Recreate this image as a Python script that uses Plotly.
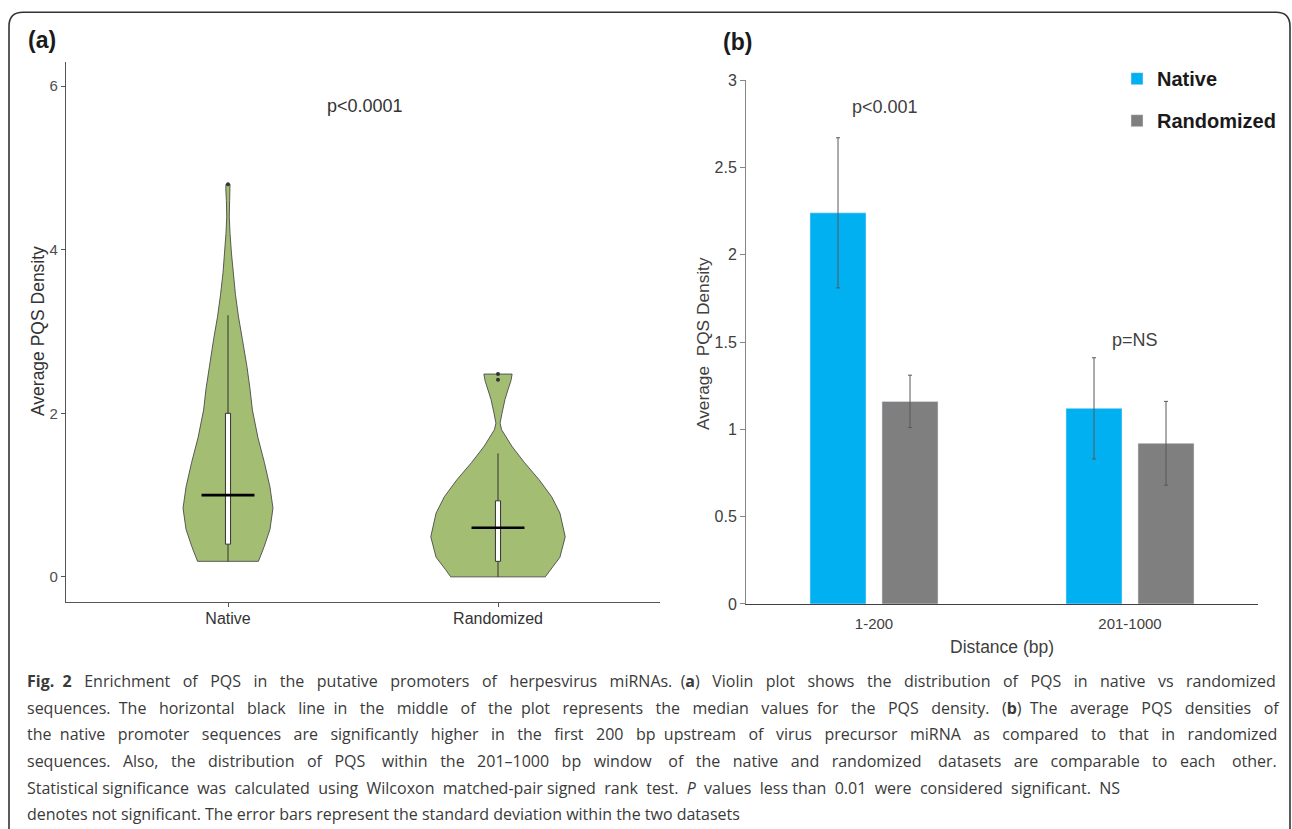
import plotly.graph_objects as go

W, H = 1292, 829

# ---------------- data: panel (a) violin ----------------
groups_a = ["Native", "Randomized"]
# density profile (value level, relative half-width)
native_levels = [0.19, 0.37, 0.58, 0.84, 1.1, 1.4, 1.7, 2.04, 2.3, 2.57, 2.9, 3.18, 3.45, 3.72, 3.96, 4.2, 4.4, 4.6, 4.75, 4.80]
native_dens = [0.453, 0.538, 0.624, 0.669, 0.624, 0.541, 0.446, 0.363, 0.327, 0.282, 0.215, 0.156, 0.111, 0.074, 0.051, 0.030, 0.019, 0.024, 0.033, 0.030]
random_levels = [0.0, 0.09, 0.24, 0.49, 0.78, 0.98, 1.19, 1.40, 1.6, 1.80, 1.88, 2.0, 2.17, 2.29, 2.40, 2.48]
random_dens = [0.703, 0.782, 0.921, 1.0, 0.921, 0.798, 0.609, 0.391, 0.204, 0.053, 0.031, 0.059, 0.104, 0.149, 0.193, 0.210]

q1_a = [0.40, 0.19]
median_a = [1.00, 0.60]
q3_a = [2.00, 0.93]
lowfence_a = [0.19, 0.00]
highfence_a = [3.20, 1.51]
outlier_group = ["Native", "Randomized", "Randomized"]
outlier_vals = [4.80, 2.48, 2.41]

# ---------------- data: panel (b) bars ----------------
distance_cats = ["1-200", "201-1000"]
native_mean = [2.24, 1.12]
native_sd = [0.43, 0.29]
random_mean = [1.16, 0.92]
random_sd = [0.15, 0.24]

# ---------------- helpers ----------------
# screen-pixel -> paper fraction (vertical includes compensation for the capture offset/scale)
Y_OFF, Y_SCALE = 7.8, 0.98

def px(x):
    return x / W

def py(y):
    return 1 - ((y - Y_OFF) / Y_SCALE) / H

VIOLIN_SCALE = 0.249   # x-units for relative density 1
BOX_HALF = 0.0095
MEDIAN_HALF = 0.098
GREEN = "#a3be73"
DARK = "#333333"

fig = go.Figure()

pos = {g: i + 1 for i, g in enumerate(groups_a)}

for g, lv, dn in [("Native", native_levels, native_dens), ("Randomized", random_levels, random_dens)]:
    c = pos[g]
    xs = [c + d * VIOLIN_SCALE for d in dn] + [c - d * VIOLIN_SCALE for d in reversed(dn)]
    ys = list(lv) + list(reversed(lv))
    xs.append(xs[0]); ys.append(ys[0])
    fig.add_trace(go.Scatter(x=xs, y=ys, mode="lines", fill="toself", fillcolor=GREEN,
                             line=dict(color="#4a4a4a", width=0.9), hoverinfo="skip",
                             showlegend=False, xaxis="x", yaxis="y"))

# whiskers
wx, wy = [], []
for g, lo, a, b, hi in zip(groups_a, lowfence_a, q1_a, q3_a, highfence_a):
    c = pos[g]
    wx += [c, c, None, c, c, None]
    wy += [lo, a, None, b, hi, None]
fig.add_trace(go.Scatter(x=wx, y=wy, mode="lines", line=dict(color=DARK, width=1),
                         showlegend=False, hoverinfo="skip", xaxis="x", yaxis="y"))

# boxes (IQR)
for g, a, b in zip(groups_a, q1_a, q3_a):
    c = pos[g]
    fig.add_trace(go.Scatter(x=[c - BOX_HALF, c + BOX_HALF, c + BOX_HALF, c - BOX_HALF, c - BOX_HALF],
                             y=[a, a, b, b, a], mode="lines", fill="toself", fillcolor="white",
                             line=dict(color=DARK, width=1), showlegend=False, hoverinfo="skip",
                             xaxis="x", yaxis="y"))

# medians
mx, my = [], []
for g, m in zip(groups_a, median_a):
    c = pos[g]
    mx += [c - MEDIAN_HALF, c + MEDIAN_HALF, None]
    my += [m, m, None]
fig.add_trace(go.Scatter(x=mx, y=my, mode="lines", line=dict(color="black", width=2.6),
                         showlegend=False, hoverinfo="skip", xaxis="x", yaxis="y"))

fig.add_trace(go.Scatter(x=[pos[g] for g in outlier_group], y=outlier_vals, mode="markers",
                         marker=dict(color=DARK, size=4), showlegend=False,
                         xaxis="x", yaxis="y"))

# panel (b)
fig.add_trace(go.Bar(name="Native", x=distance_cats, y=native_mean, marker_color="#00b0f0",
                     error_y=dict(type="data", array=native_sd, color="#595959", thickness=1, width=2),
                     legendgroup="n", xaxis="x2", yaxis="y2"))
fig.add_trace(go.Bar(name="Randomized", x=distance_cats, y=random_mean, marker_color="#7f7f7f",
                     error_y=dict(type="data", array=random_sd, color="#595959", thickness=1, width=2),
                     legendgroup="r", xaxis="x2", yaxis="y2"))

font_c = "Liberation Sans, Arial, sans-serif"

fig.update_layout(
    width=W, height=H, autosize=False,
    margin=dict(l=0, r=0, t=0, b=0),
    paper_bgcolor="white", plot_bgcolor="white",
    font=dict(family=font_c, color="#4d4d4d"),
    barmode="group", bargap=0.4375, bargroupgap=0.222,
    xaxis=dict(domain=[px(66), px(660)], range=[0.4, 2.6], tickvals=[1, 2], ticktext=groups_a,
               showline=True, linecolor="#555555", linewidth=1.3, ticks="outside", ticklen=4,
               tickcolor="#555555", showgrid=False, zeroline=False, ticklabelstandoff=-2,
               tickfont=dict(size=16, color=DARK), anchor="y"),
    yaxis=dict(domain=[py(602), py(62)], range=[-0.306, 6.294], tickvals=[0, 2, 4, 6],
               showline=True, linecolor="#555555", linewidth=1.3, ticks="outside", ticklen=4,
               tickcolor="#555555", showgrid=False, zeroline=False,
               tickfont=dict(size=15, color="#4d4d4d"), anchor="x"),
    xaxis2=dict(domain=[px(746), px(1258)], showline=True, linecolor="#404040", linewidth=1,
                ticks="", showgrid=False, zeroline=False, tickfont=dict(size=15, color="#404040"),
                ticklabelstandoff=6, anchor="y2"),
    yaxis2=dict(domain=[py(604), py(80)], range=[0, 3], dtick=0.5, showline=True,
                linecolor="#868686", linewidth=1, ticks="outside", ticklen=5, tickcolor="#868686",
                showgrid=False, zeroline=False, tickfont=dict(size=16, color="#404040"), anchor="x2"),
    legend=dict(x=px(1117), y=py(59), xanchor="left", yanchor="top",
                font=dict(family=font_c, size=20, color="#1a1a1a", weight="bold"),
                traceorder="grouped", tracegroupgap=13, bgcolor="rgba(0,0,0,0)",
                itemclick=False),
)

ann = []
def add_text(text, x, y, size, color=DARK, bold=False, angle=0, xanchor="center", family=font_c):
    ann.append(dict(text=text, x=px(x), y=py(y), xref="paper", yref="paper", showarrow=False,
                    xanchor=xanchor, yanchor="middle", textangle=angle,
                    font=dict(size=size, color=color, family=family, weight="bold" if bold else "normal")))

add_text("(a)", 42, 40, 23, color="#1a1a1a", bold=True)
add_text("(b)", 737, 42, 23, color="#1a1a1a", bold=True)
add_text("p<0.0001", 365, 106, 18)
add_text("p<0.001", 885, 107, 18, color="#404040")
add_text("p=NS", 1135, 340, 18, color="#404040")
add_text("Average PQS Density", 38, 331, 17.5, angle=-90)
add_text("Average  PQS Density", 703, 343, 17.3, color="#404040", angle=-90)
add_text("Distance (bp)", 1002, 647, 17.5, color="#404040")

cap_lines = [
    "<b>Fig. 2</b> Enrichment of PQS in the putative promoters of herpesvirus miRNAs. (<b>a</b>) Violin plot shows the distribution of PQS in native vs randomized",
    "sequences. The horizontal black line in the middle of the plot represents the median values for the PQS density. (<b>b</b>) The average PQS densities of",
    "the native promoter sequences are significantly higher in the first 200 bp upstream of virus precursor miRNA as compared to that in randomized",
    "sequences. Also, the distribution of PQS within the 201–1000 bp window of the native and randomized datasets are comparable to each other.",
    "Statistical significance was calculated using Wilcoxon matched-pair signed rank test. <i>P</i> values less than 0.01 were considered significant. NS",
    "denotes not significant. The error bars represent the standard deviation within the two datasets",
]
# extra non-breaking spaces used to imitate the justified caption lines
cap_extra = [44, 43, 42, 46, 15, 0]
cap_y = [681, 707.7, 734.4, 761, 787.8, 814.4]

def justify(line, extra):
    words = line.split(" ")
    gaps = len(words) - 1
    out = words[0]
    for i in range(gaps):
        n = (i + 1) * extra // gaps - i * extra // gaps
        out += " " + "\u00a0" * n + words[i + 1]
    return out

for t, k, yy in zip(cap_lines, cap_extra, cap_y):
    add_text(justify(t, k), 25, yy, 16, color="#3a3a3a", xanchor="left", family="Open Sans, sans-serif")

fig.update_layout(annotations=ann)

# rounded frame
r = 14
x0, x1, yt, yb = 9, 1290, 12, 860
path = (f"M {px(x0)},{py(yb)} L {px(x0)},{py(yt + r)} Q {px(x0)},{py(yt)} {px(x0 + r)},{py(yt)} "
        f"L {px(x1 - r)},{py(yt)} Q {px(x1)},{py(yt)} {px(x1)},{py(yt + r)} L {px(x1)},{py(yb)}")
fig.add_shape(type="path", path=path, xref="paper", yref="paper", line=dict(color=DARK, width=1.6))

fig.write_html("out.html", config={"displayModeBar": False},
               post_script="document.body.style.margin='0';document.body.style.overflow='hidden';")
